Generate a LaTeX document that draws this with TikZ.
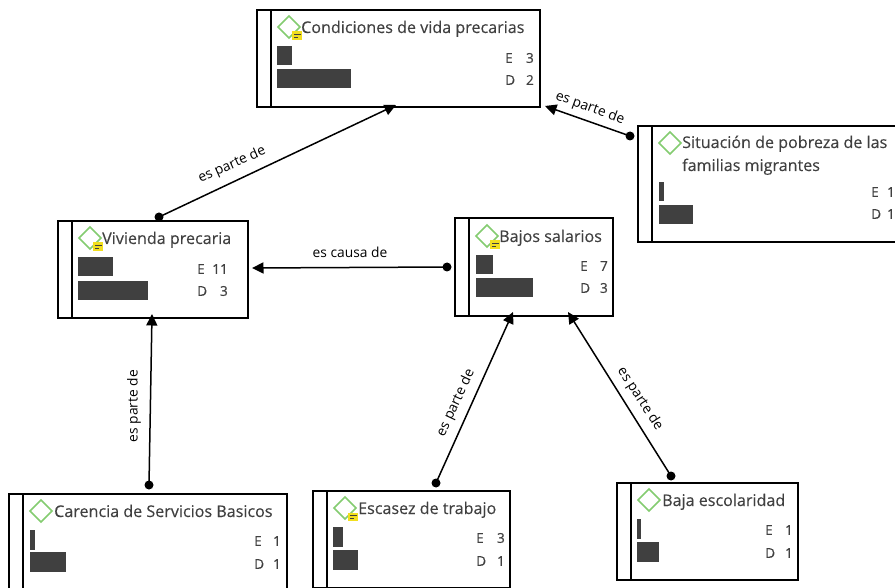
\documentclass[tikz,border=0pt]{standalone}
\usepackage{fontspec}
\setmainfont{Open Sans}
\newfontfamily\midfont[FakeBold=0.25]{Open Sans}
\usetikzlibrary{arrows.meta,calc}
\definecolor{ink}{HTML}{404040}
\definecolor{leaf}{HTML}{84CC70}
\definecolor{memo}{HTML}{F2DF1F}
\tikzset{
  cardbox/.style={draw=black,line width=1.1pt,fill=white,anchor=north west,inner sep=0pt,outer sep=0pt},
  cardline/.style={draw=black,line width=1.1pt},
  titletext/.style={anchor=base west,inner sep=0pt,text=ink,font=\midfont\fontsize{16.1}{19}\selectfont},
  bar/.style={fill=ink,draw=none,anchor=north west,inner sep=0pt,outer sep=0pt},
  valtext/.style={inner sep=0pt,text=ink,font=\midfont\fontsize{13.6}{15}\selectfont},
  dotend/.style={circle,fill=black,inner sep=0pt,minimum size=9pt},
  link/.style={draw=black,line width=1.5pt,-{Triangle[length=11.5pt,width=11pt]}},
  linklabel/.style={inner sep=0pt,text=black,font=\fontsize{13.8}{15}\selectfont},
  gem/.style={draw=leaf,line width=1.7pt,line join=miter},
}
\newcommand\card[5]{%
  \pgfmathsetmacro\cw{#4-#2}\pgfmathsetmacro\ch{#5-#3}%
  \node[cardbox,minimum width=\cw pt,minimum height=\ch pt] (#1) at (#2,#3) {};
  \draw[cardline] ([xshift=14pt]#1.north west) -- ([xshift=14pt]#1.south west);
}
\newcommand\gemicon[2]{\draw[gem] (#1-11,#2) -- (#1,#2-11) -- (#1+11,#2) -- (#1,#2+11) -- cycle;}
\newcommand\memoicon[2]{%
  \fill[memo] (#1-5,#2-3.5) rectangle (#1+5,#2+5);
  \draw[ink,line width=0.9pt] (#1-3,#2-0.5) -- (#1+3.5,#2-0.5) (#1-3,#2+2) -- (#1+1,#2+2);
}
\newcommand\bars[7]{% name, x, y1, w1, y2, w2, height
  \node[bar,minimum width=#4pt,minimum height=#7pt] (#1a) at (#2,#3) {};
  \node[bar,minimum width=#6pt,minimum height=#7pt] (#1b) at (#2,#5) {};
}
\newcommand\vals[7]{% name, letter x, num right x, y1, n1, y2, n2
  \node[valtext,anchor=west] (#1E) at (#2,#4) {E};
  \node[valtext,anchor=east] (#1En) at (#3,#4) {#5};
  \node[valtext,anchor=west] (#1D) at (#2,#6) {D};
  \node[valtext,anchor=east] (#1Dn) at (#3,#6) {#7};
}
\begin{document}
\begin{tikzpicture}[x=1pt,y=-1pt]
\clip (0,0) rectangle (895,588);
\fill[white] (0,0) rectangle (895,588);
% cards
\card{cond}{257}{10}{540}{107}
\gemicon{289}{27}\memoicon{297}{35}
\node[titletext] (condt) at (301,33) {Condiciones de vida precarias};
\bars{cond}{277}{46}{15}{69}{74}{19.5}
\vals{cond}{505}{534}{58}{3}{80}{2}

\card{sit}{638}{126}{910}{242}
\gemicon{670}{143}
\node[titletext] (sitt) at (682,148) {Situación de pobreza de las};
\node[titletext] (situ) at (682,171) {familias migrantes};
\bars{sit}{659}{182}{5}{205}{34}{19.5}
\vals{sit}{871}{895}{192}{1}{214}{1}

\card{viv}{58}{221}{248}{318}
\gemicon{90}{238}\memoicon{98}{246}
\node[titletext] (vivt) at (102,244) {Vivienda precaria};
\bars{viv}{78}{257}{35}{281}{70}{19.5}
\vals{viv}{197}{228}{269}{11}{291}{3}

\card{baj}{455}{218}{613}{316}
\gemicon{487}{236}\memoicon{495}{244}
\node[titletext] (bajt) at (499,242) {Bajos salarios};
\bars{baj}{476}{255}{17}{278}{57}{19.5}
\vals{baj}{580}{608}{266}{7}{288}{3}

\card{car}{9}{494}{287}{600}
\gemicon{41}{511}
\node[titletext] (cart) at (54,517) {Carencia de Servicios Basicos};
\bars{car}{30}{530}{4.5}{552}{36}{19.5}
\vals{car}{254}{281}{541}{1}{564}{1}

\card{esc}{313}{491}{510}{588}
\gemicon{345}{508}\memoicon{353}{516}
\node[titletext] (esct) at (358,514) {Escasez de trabajo};
\bars{esc}{333}{527}{10}{550}{25}{19.5}
\vals{esc}{476}{505}{538}{3}{561}{1}

\card{bja}{617}{483}{798}{580}
\gemicon{649}{500}
\node[titletext] (bjat) at (662,506) {Baja escolaridad};
\bars{bja}{637}{519}{4}{542}{22}{19.5}
\vals{bja}{765}{793}{530}{1}{553}{1}

% connector start dots
\node[dotend] (d1) at (630,136) {};
\node[dotend] (d2) at (159,217) {};
\node[dotend] (d3) at (447,267) {};
\node[dotend] (d4) at (149,485) {};
\node[dotend] (d5) at (436,483) {};
\node[dotend] (d6) at (671,476) {};
% connectors
\draw[link] (d1.center) -- ([shift={(5,-1)}]cond.south east);
\draw[link] (d2.center) -- ([shift={(139,-2)}]cond.south west);
\draw[link] (d3.center) -- ([shift={(4,-50)}]viv.south east);
\draw[link] (d4.center) -- ([shift={(94,-4)}]viv.south west);
\draw[link] (d5.center) -- ([shift={(58,-4)}]baj.south west);
\draw[link] (d6.center) -- ([shift={(113,-4)}]baj.south west);
% labels
\node[linklabel,rotate=-20] (l1) at (590,108) {es parte de};
\node[linklabel,rotate=24] (l2) at (232,165) {es parte de};
\node[linklabel] (l3) at (350,252) {es causa de};
\node[linklabel,rotate=90] (l4) at (134,406) {es parte de};
\node[linklabel,rotate=65] (l5) at (456,403) {es parte de};
\node[linklabel,rotate=-57] (l6) at (640,399) {es parte de};
\end{tikzpicture}
\end{document}
